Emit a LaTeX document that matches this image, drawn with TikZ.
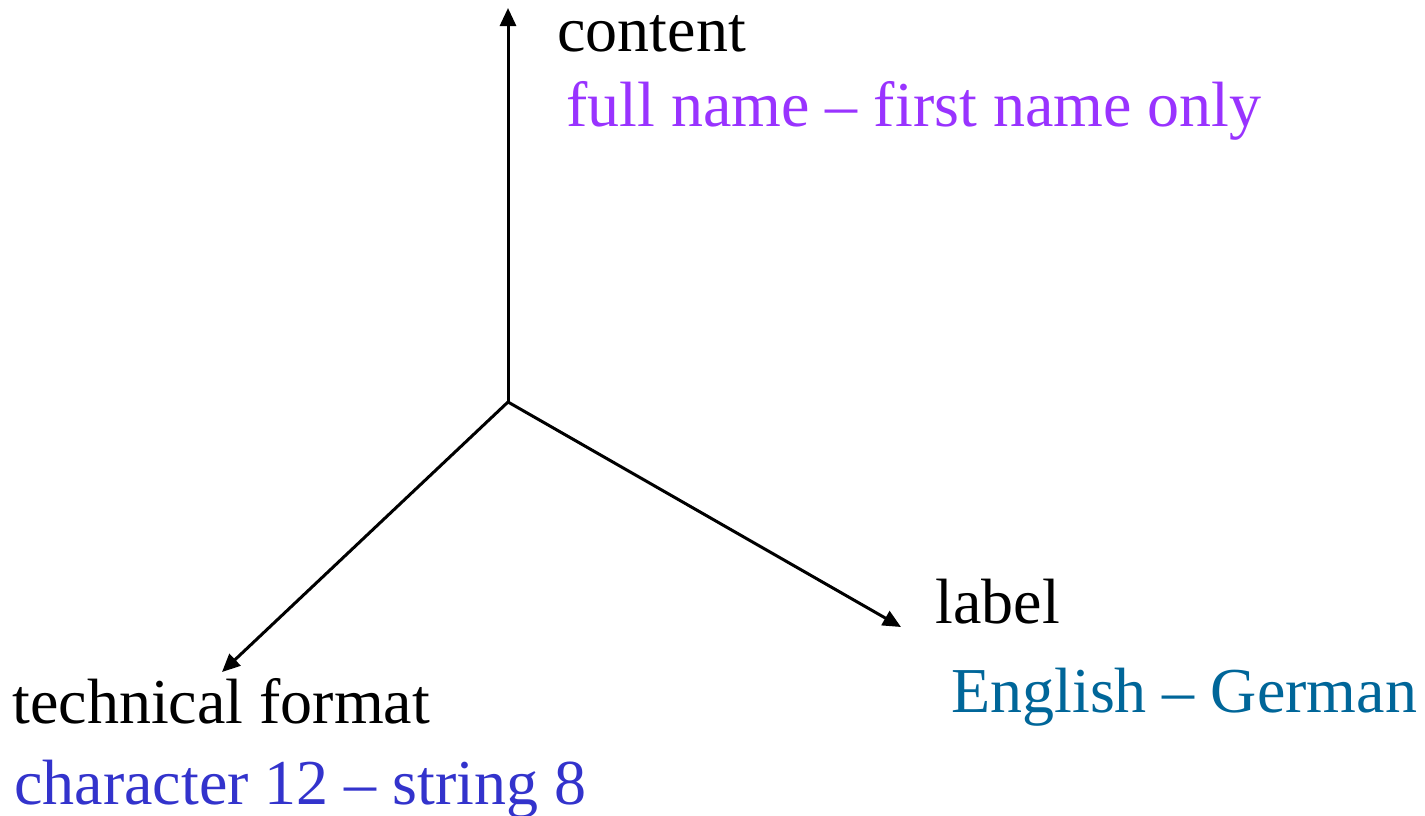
\documentclass[tikz,border=0pt]{standalone}
\usepackage{fontspec}
\setmainfont{Liberation Serif}
\usetikzlibrary{arrows.meta}
\definecolor{contentcol}{HTML}{9933FF}
\definecolor{labelcol}{HTML}{006699}
\definecolor{formatcol}{HTML}{3333CC}
\tikzset{
  axis/.style={line width=1.5pt,-{Triangle[length=9pt,width=8pt]}},
  title/.style={anchor=base west,inner sep=0pt,font=\fontsize{32pt}{38pt}\selectfont},
}
\begin{document}
\begin{tikzpicture}[x=0.5pt,y=-0.5pt]
\useasboundingbox (0,0) rectangle (1425,815);
% axes meeting in one point
\coordinate (o) at (508,402);
\coordinate (top) at (508,8);
\coordinate (right) at (901,627);
\coordinate (left) at (222,672);
\draw[axis] (o) -- (top);
\draw[axis] (o) -- (right);
\draw[axis] (o) -- (left);
% axis names and their ranges
\node[title] (content) at (557,51) {content};
\node[title,text=contentcol] (contentrange) at (566,126) {full name – first name only};
\node[title] (label) at (935,623) {label};
\node[title,text=labelcol] (labelrange) at (951,712) {English – German};
\node[title] (format) at (12,723) {technical format};
\node[title,text=formatcol] (formatrange) at (14,804) {character 12 – string 8};
\end{tikzpicture}
\end{document}
